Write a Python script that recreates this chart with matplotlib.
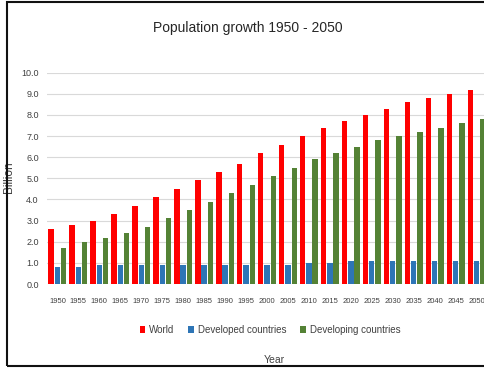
import numpy as np
import matplotlib.pyplot as plt
from matplotlib.patches import Rectangle

# dados (bilhões)
years = ['1950', '1955', '1960', '1965', '1970', '1975', '1980', '1985', '1990', '1995', '2000',
         '2005', '2010', '2015', '2020', '2025', '2030', '2035', '2040', '2045', '2050']
world = [2.6, 2.8, 3.0, 3.3, 3.7, 4.1, 4.5, 4.9, 5.3, 5.7, 6.2,
         6.6, 7.0, 7.4, 7.7, 8.0, 8.3, 8.6, 8.8, 9.0, 9.2]
developed = [0.8, 0.8, 0.9, 0.9, 0.9, 0.9, 0.9, 0.9, 0.9, 0.9, 0.9,
             0.9, 1.0, 1.0, 1.1, 1.1, 1.1, 1.1, 1.1, 1.1, 1.1]
developing = [1.7, 2.0, 2.2, 2.4, 2.7, 3.1, 3.5, 3.9, 4.3, 4.7, 5.1,
              5.5, 5.9, 6.2, 6.5, 6.8, 7.0, 7.2, 7.4, 7.6, 7.8]

W, H = 484, 368
txt = '#404040'
plt.rcParams['font.family'] = ['Liberation Sans', 'DejaVu Sans']

fig = plt.figure(figsize=(W / 100, H / 100), dpi=100)
ax = fig.add_axes([47 / W, 84 / H, 440 / W, 211.3 / H])

x = np.arange(len(years))
bw = 0.26
ax.bar(x - 0.3, world, bw, color='#FF0000', label='World', zorder=3)
ax.bar(x, developed, bw, color='#2E75B6', label='Developed countries', zorder=3)
ax.bar(x + 0.3, developing, bw, color='#548235', label='Developing countries', zorder=3)

ax.set_xlim(-0.5, len(years) - 0.5)
ax.set_ylim(0, 10)
ax.set_yticks(np.arange(0, 10.1, 1.0))
ax.set_yticklabels([f'{v:.1f}' for v in np.arange(0, 10.1, 1.0)])
ax.set_xticks(x)
ax.set_xticklabels(years)
ax.tick_params(axis='x', length=0, labelsize=5.5, colors=txt, pad=10)
ax.tick_params(axis='y', length=0, labelsize=6.5, colors=txt, pad=6)
ax.grid(axis='y', color='#D9D9D9', linewidth=0.8, zorder=0)
for s in ax.spines.values():
    s.set_visible(False)

ax.set_ylabel('Billion', fontsize=8.5, color=txt)
ax.yaxis.set_label_coords(15 / W, 1 - 177 / H, transform=fig.transFigure)
ax.set_xlabel('Year', fontsize=7.5, color=txt)
ax.xaxis.set_label_coords(274 / W, 1 - 355 / H, transform=fig.transFigure)

fig.text(248 / W, 1 - 28 / H, 'Population growth 1950 - 2050', fontsize=10,
         color='#262626', ha='center', va='center')

fig.legend(loc='center', bbox_to_anchor=(270 / W, 1 - 330 / H), ncol=3, frameon=False,
           fontsize=7, handlelength=0.6, handleheight=0.8, handletextpad=0.4,
           columnspacing=1.4, labelcolor=txt)

# moldura (cortada à direita)
fig.patches.append(Rectangle((7 / W, 2 / H), 1.2, 1 - 4 / H, transform=fig.transFigure,
                             fill=False, edgecolor='#111111', linewidth=1.5))

plt.savefig('out.png', dpi=100)
